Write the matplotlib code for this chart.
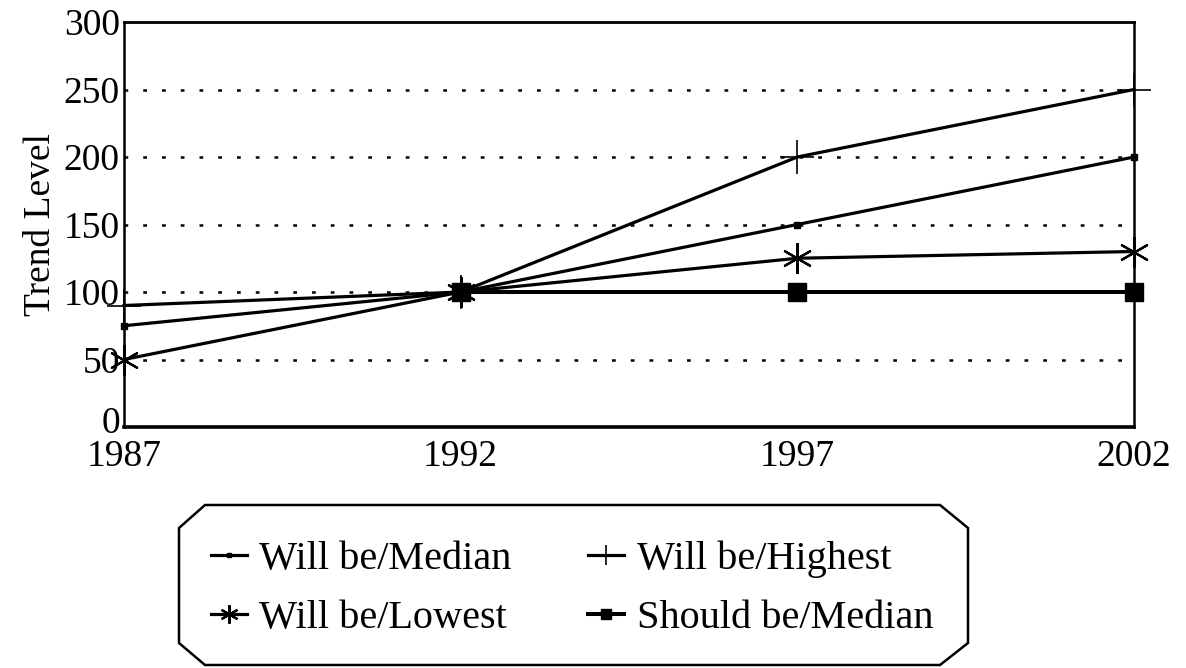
import matplotlib
matplotlib.use("Agg")
import matplotlib.pyplot as plt
import matplotlib.transforms as mtransforms
from matplotlib.patches import Polygon

years = [1987, 1992, 1997, 2002]
will_median = [75, 100, 150, 200]
will_highest = [90, 100, 200, 250]
will_lowest = [50, 100, 125, 130]
should_years = [1992, 1997, 2002]
should_median = [100, 100, 100]
yticks = [0, 50, 100, 150, 200, 250, 300]

plt.rcParams['font.family'] = ['Liberation Serif', 'DejaVu Serif']

W, H = 1186, 668
fig = plt.figure(figsize=(W/100, H/100), dpi=100)
ax = fig.add_axes([124/W, 1-427/H, (1134-124)/W, (427-22)/H])

lw = 2.3
l1, = ax.plot(years, will_median, color='black', lw=lw, marker='s', ms=5, label='Will be/Median', clip_on=False, zorder=3)
l2, = ax.plot(years, will_highest, color='black', lw=lw, marker='+', ms=24, mew=1.2, label='Will be/Highest', clip_on=False, zorder=3)
l3, = ax.plot(years, will_lowest, color='black', lw=lw, marker=(6, 2, 0), ms=22, mew=1.6, label='Will be/Lowest', clip_on=False, zorder=3)
l4, = ax.plot(should_years, should_median, color='black', lw=lw+0.6, marker='s', ms=13, label='Should be/Median', clip_on=False, zorder=3)

ax.set_xlim(1987, 2002)
ax.set_ylim(0, 300)
ax.set_xticks(years)
ax.set_yticks(yticks)
ax.tick_params(length=0, labelsize=27)
ax.tick_params(axis='x', pad=9)
ax.tick_params(axis='y', pad=3)
for y in yticks[1:-1]:
    ax.axhline(y, color='black', lw=1.8, ls=(0, (1.5, 6)), zorder=0)
ax.spines['top'].set_linewidth(2.0)
ax.spines['left'].set_linewidth(1.8)
ax.spines['bottom'].set_linewidth(2.6)
ax.spines['right'].set_linewidth(1.8)
ax.set_ylabel('Trend Level', fontsize=27, labelpad=4)

# nudge the "0" label up slightly so it does not collide with "1987"
fig.canvas.draw()
zero = ax.get_yticklabels()[0]
zero.set_transform(zero.get_transform() + mtransforms.ScaledTranslation(0, 5/72, fig.dpi_scale_trans))

# legend box (chamfered octagon)
pts = [(205, 505), (940, 505), (968, 528), (968, 643), (940, 665), (205, 665), (179, 643), (179, 528)]
poly = Polygon([(px/W, 1-py/H) for px, py in pts], closed=True, transform=fig.transFigure,
               fill=False, edgecolor='black', lw=1.8)
fig.patches.append(poly)

leg = fig.legend([l1, l3, l2, l4], ['Will be/Median', 'Will be/Lowest', 'Will be/Highest', 'Should be/Median'],
                 loc='center', bbox_to_anchor=(572/W, 1-589/H), ncol=2, frameon=False,
                 fontsize=29, handlelength=0.9, handletextpad=0.3,
                 columnspacing=1.9, labelspacing=0.55, markerscale=0.6,
                 borderpad=0, borderaxespad=0)

fig.savefig('out.png', dpi=100)
